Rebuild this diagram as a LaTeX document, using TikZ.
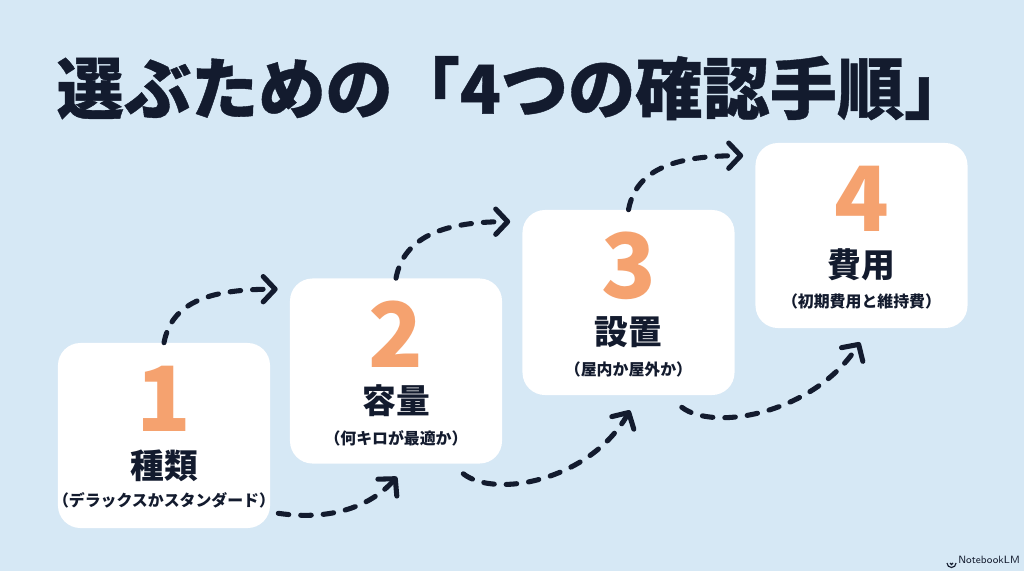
\documentclass[tikz,border=0pt]{standalone}
\usepackage{fontspec}
\setmainfont{Noto Sans CJK JP}
\newfontfamily\titlefont{Noto Sans CJK JP}[BoldFeatures={FakeBold=0.6}]
\usetikzlibrary{arrows.meta,calc}

\definecolor{bgblue}{HTML}{D6E8F5}
\definecolor{inkblue}{HTML}{131B2E}
\definecolor{numorange}{HTML}{F5A26F}

\begin{document}
\begin{tikzpicture}[x=0.025cm, y=-0.025cm, >={Straight Barb[length=8.5pt,width=18pt,line width=3.6pt,round]}]

% ---------- styles ----------
\tikzset{
  stepbox/.style={fill=white, rounded corners=16pt, minimum width=5.3cm,
    minimum height=4.625cm, inner sep=0pt},
  stepnum/.style={text=numorange, font=\fontsize{64pt}{66pt}\bfseries\selectfont, inner sep=0pt},
  steptitle/.style={text=inkblue, font=\fontsize{24pt}{26pt}\bfseries\selectfont, inner sep=0pt},
  stepnote/.style={text=inkblue, font=\fontsize{11.3pt}{13pt}\bfseries\selectfont, inner sep=0pt},
  flow/.style={->, inkblue, line width=3.6pt, line cap=round,
    dash pattern=on 7.5pt off 8.5pt}
}

% ---------- background ----------
\fill[bgblue] (0,0) rectangle (1024,571);
\useasboundingbox (0,0) rectangle (1024,571);

% ---------- title ----------
\node[text=inkblue, font=\titlefont\fontsize{47.8pt}{50pt}\bfseries\selectfont, inner sep=0pt]
  (title) at (514,88) {選ぶための「4つの確認手順」};

% ---------- step boxes ----------
\node[stepbox] (box1) at (164,435.5) {};
\node[stepbox] (box2) at (396,371) {};
\node[stepbox] (box3) at (628.5,302.5) {};
\node[stepbox] (box4) at (861.5,235.5) {};

% step 1
\node[stepnum] (n1) at ($(box1.north)+(0,56)$) {1};
\node[steptitle] (t1) at ($(box1.north)+(0,123)$) {種類};
\node[stepnote] (s1) at ($(box1.north)+(0,158)$) {（デラックスかスタンダード）};

% step 2
\node[stepnum] (n2) at ($(box2.north)+(0,56)$) {2};
\node[steptitle] (t2) at ($(box2.north)+(0,122)$) {容量};
\node[stepnote] (s2) at ($(box2.north)+(0,160)$) {（何キロが最適か）};

% step 3
\node[stepnum] (n3) at ($(box3.north)+(0,56)$) {3};
\node[steptitle] (t3) at ($(box3.north)+(0,122)$) {設置};
\node[stepnote] (s3) at ($(box3.north)+(0,160)$) {（屋内か屋外か）};

% step 4
\node[stepnum] (n4) at ($(box4.north)+(0,56)$) {4};
\node[steptitle] (t4) at ($(box4.north)+(0,122)$) {費用};
\node[stepnote] (s4) at ($(box4.north)+(0,159)$) {（初期費用と維持費）};

% ---------- arrow ends ----------
\coordinate (u1) at ($(box2.north west)+(-12,11)$);
\coordinate (u2) at ($(box3.north west)+(-12,12)$);
\coordinate (u3) at ($(box4.north west)+(-12,13)$);
\coordinate (l1s) at ($(box1.south east)+(8,-15)$);
\coordinate (l2s) at ($(box2.south east)+(-39,10)$);
\coordinate (l3s) at ($(box3.south east)+(-53,12)$);
\coordinate (l1) at ($(box2.south)+(1,13)$);
\coordinate (l2) at ($(box3.south)+(1.5,15)$);
\coordinate (l3) at ($(box4.south)+(-1.5,14)$);

% ---------- upper arrows ----------
\draw[flow] (box1.north) .. controls +(8,-43) and +(-63,0) .. (u1);
\draw[flow] (box2.north) .. controls +(8,-43) and +(-63,0) .. (u2);
\draw[flow] (box3.north) .. controls +(8,-43) and +(-63,0) .. (u3);

% ---------- lower arrows ----------
\draw[flow] (l1s) .. controls +(55,8) and +(-25,28) .. (l1);
\draw[flow] (l2s) .. controls +(32,25) and +(-40,70) .. (l2);
\draw[flow] (l3s) .. controls +(33,25) and +(-45,70) .. (l3);

% ---------- logo ----------
\node[text=inkblue, font=\sffamily\fontsize{7.5pt}{8pt}\selectfont, inner sep=0pt, anchor=west]
  (brand) at (958,560) {NotebookLM};
\draw[inkblue, line width=0.8pt] ($(brand.west)+(-11,3)$) arc (180:0:4.5);
\draw[inkblue, line width=0.8pt] ($(brand.west)+(-8,3)$) arc (180:0:1.5);

\end{tikzpicture}
\end{document}
